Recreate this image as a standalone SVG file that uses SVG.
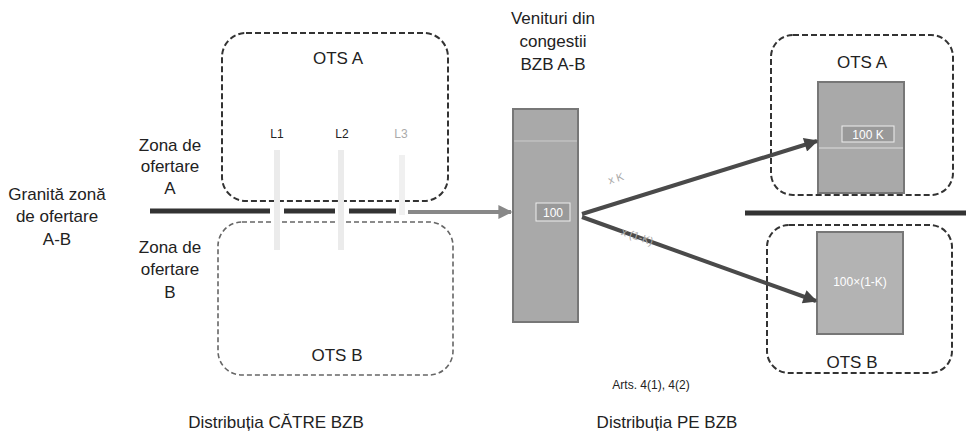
<svg xmlns="http://www.w3.org/2000/svg" width="966" height="436" viewBox="0 0 966 436">
<style>
text{font-family:"Liberation Sans",Arial,sans-serif;fill:#222;}
.lbl{font-size:17px;text-anchor:middle;}
.zone{fill:none;stroke:#333;stroke-width:2;stroke-dasharray:6 3;}
.zoneb{fill:none;stroke:#666;stroke-width:1.6;stroke-dasharray:5 3;}
.mat{fill:#a9a9a9;stroke:#777;stroke-width:2;}
.tag{font-size:12px;text-anchor:middle;fill:#fff;}
.faint{font-size:11px;fill:#aaa;text-anchor:middle;}
</style>
<defs>
<marker id="ah" viewBox="0 0 10 10" refX="9" refY="5" markerWidth="4" markerHeight="3.5" orient="auto" markerUnits="strokeWidth">
<path d="M0,0 L10,5 L0,10 z" fill="#444"/>
</marker>
<marker id="ahg" viewBox="0 0 10 10" refX="9" refY="5" markerWidth="4" markerHeight="3.5" orient="auto" markerUnits="strokeWidth">
<path d="M0,0 L10,5 L0,10 z" fill="#888"/>
</marker>
</defs>
<rect width="966" height="436" fill="#fff"/>

<g id="ots-a-left">
<rect class="zone" x="222" y="33" width="226" height="168" rx="24"/>
<text class="lbl" x="338" y="64">OTS A</text>
</g>
<g id="ots-b-left">
<rect class="zoneb" x="218" y="222" width="235" height="153" rx="24"/>
<text class="lbl" x="337" y="361">OTS B</text>
</g>

<g id="lines-L">
<rect x="274" y="150" width="6" height="100" fill="#ebebeb"/>
<rect x="338" y="150" width="6" height="100" fill="#ebebeb"/>
<rect x="399" y="155" width="6" height="60" fill="#f0f0f0"/>
<text x="277" y="138" font-size="12" text-anchor="middle">L1</text>
<text x="342" y="138" font-size="12" text-anchor="middle">L2</text>
<text x="401" y="138" font-size="12" text-anchor="middle" style="fill:#aaa">L3</text>
</g>

<g id="labels-left">
<text class="lbl" x="170" y="151">Zona de</text>
<text class="lbl" x="170" y="172">ofertare</text>
<text class="lbl" x="170" y="194">A</text>
<text class="lbl" x="57" y="200">Granită zonă</text>
<text class="lbl" x="57" y="222">de ofertare</text>
<text class="lbl" x="57" y="245">A-B</text>
<text class="lbl" x="170" y="253">Zona de</text>
<text class="lbl" x="170" y="275">ofertare</text>
<text class="lbl" x="170" y="298">B</text>
</g>

<g id="bzb-box">
<text class="lbl" x="553" y="24">Venituri din</text>
<text class="lbl" x="553" y="47">congestii</text>
<text class="lbl" x="553" y="70">BZB A-B</text>
<rect class="mat" x="513" y="109" width="65" height="213"/>
<line x1="514" y1="141" x2="577" y2="141" stroke="#ccc" stroke-width="1"/>
<rect x="536" y="203" width="34" height="18" fill="#999" stroke="#eee" stroke-width="1"/>
<text class="tag" x="553" y="217">100</text>
</g>

<g id="ots-a-right">
<rect class="zone" x="771" y="35" width="182" height="160" rx="22"/>
<text class="lbl" x="862" y="68">OTS A</text>
<rect class="mat" x="818" y="82" width="86" height="111"/>
<line x1="819" y1="148" x2="903" y2="148" stroke="#ddd" stroke-width="1"/>
<rect x="842" y="126" width="52" height="16" fill="#999" stroke="#eee" stroke-width="1"/>
<text class="tag" x="868" y="139">100 K</text>
</g>

<g id="ots-b-right">
<rect class="zone" x="767" y="225" width="185" height="148" rx="22"/>
<text class="lbl" x="852" y="368">OTS B</text>
<rect class="mat" x="817" y="232" width="86" height="102" style="fill:#b3b3b3"/>
<text class="tag" x="860" y="286">100×(1-K)</text>
</g>

<g id="connectors">
<path d="M150,211 H270 M284,211 H335 M349,211 H396" stroke="#333" stroke-width="5" fill="none"/>
<line x1="745" y1="213" x2="966" y2="213" stroke="#333" stroke-width="5"/>
<line x1="408" y1="212" x2="511" y2="212" stroke="#888" stroke-width="4" marker-end="url(#ahg)"/>
<line x1="582" y1="214" x2="817" y2="141" stroke="#4a4a4a" stroke-width="4" marker-end="url(#ah)"/>
<line x1="582" y1="217" x2="816" y2="301" stroke="#4a4a4a" stroke-width="4" marker-end="url(#ah)"/>
<text class="faint" x="617" y="182" transform="rotate(-17 617 182)">x K</text>
<text class="faint" x="636" y="240" transform="rotate(19 636 240)">x (1-K)</text>
</g>

<g id="captions">
<text x="651" y="389" font-size="12" text-anchor="middle">Arts. 4(1), 4(2)</text>
<text class="lbl" x="276" y="428">Distribuția CĂTRE BZB</text>
<text class="lbl" x="667" y="428">Distribuția PE BZB</text>
</g>
</svg>
